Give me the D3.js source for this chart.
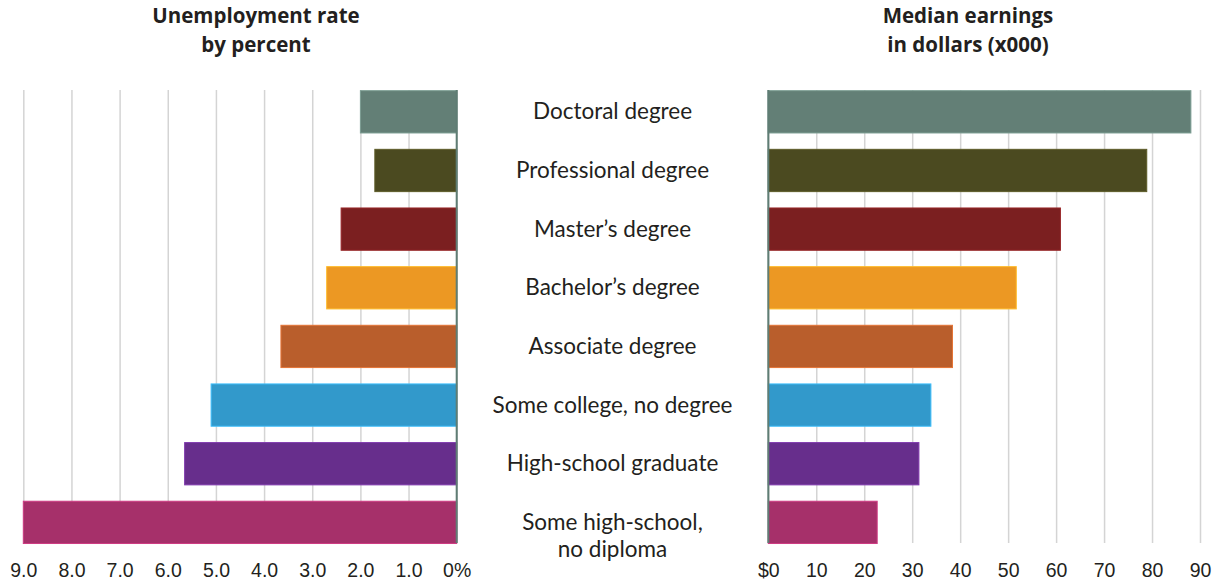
<!DOCTYPE html>
<html>
<head>
<meta charset="utf-8">
<script src="https://cdn.jsdelivr.net/npm/d3@7"></script>
<style>
  body { margin: 0; background: #fff; }
  svg { display: block; font-family: Lato, "Noto Sans", sans-serif; }
  .grid line { stroke: #d4d4d4; stroke-width: 1.5; }
  .grid .domain { display: none; }
  .grid text { font-size: 19.5px; fill: #231f20; }
  .titulo { font-family: "Open Sans", Lato, sans-serif; font-size: 20.5px; font-weight: bold; fill: #231f20; text-anchor: middle; }
  .cat { font-size: 22.5px; fill: #231f20; text-anchor: middle; }
</style>
</head>
<body>
<div id="chart"></div>
<script>
// Datos
const categories = ['Doctoral degree', 'Professional degree', 'Master’s degree', 'Bachelor’s degree',
  'Associate degree', 'Some college, no degree', 'High-school graduate', 'Some high-school,\nno diploma'];
const unemployment = [2.0, 1.7, 2.4, 2.7, 3.65, 5.1, 5.65, 9.0];
const earnings = [88.1, 78.9, 60.9, 51.7, 38.4, 33.9, 31.4, 22.7];
const colors = ['#637f76', '#4b4a20', '#7b1f20', '#ec9823', '#b95e2c', '#3299cb', '#672e8c', '#a6306a'];
const leftTicks = [9, 8, 7, 6, 5, 4, 3, 2, 1, 0];
const rightTicks = [0, 10, 20, 30, 40, 50, 60, 70, 80, 90];
const leftTitle = ['Unemployment rate', 'by percent'];
const rightTitle = ['Median earnings', 'in dollars (x000)'];

const width = 1219;
const height = 584;
const gridTop = 90;
const gridBottom = 543;
const axisColor = '#5f7d74';

const svg = d3.select('#chart')
  .append('svg')
  .attr('width', width)
  .attr('height', height);

const y = d3.scaleBand()
  .domain(categories)
  .range([82.5, 551.7])
  .paddingInner(0.279)
  .paddingOuter(0.1395);

const xL = d3.scaleLinear().domain([0, 9]).range([456.7, 23.3]);
const xR = d3.scaleLinear().domain([0, 90]).range([768.3, 1200]);

// Rejillas + etiquetas de los ejes
const axisL = d3.axisBottom(xL)
  .tickValues(leftTicks)
  .tickSize(-(gridBottom - gridTop))
  .tickPadding(20)
  .tickFormat(d => d === 0 ? '0%' : d.toFixed(1));
svg.append('g')
  .attr('class', 'grid')
  .attr('transform', `translate(0,${gridBottom})`)
  .call(axisL);

const axisR = d3.axisBottom(xR)
  .tickValues(rightTicks)
  .tickSize(-(gridBottom - gridTop))
  .tickPadding(20)
  .tickFormat(d => d === 0 ? '$0' : d);
svg.append('g')
  .attr('class', 'grid')
  .attr('transform', `translate(0,${gridBottom})`)
  .call(axisR);

svg.selectAll('.grid text').attr('font-family', null).attr('font-size', null);

// Barras izquierda (paro)
svg.append('g').selectAll('rect')
  .data(categories)
  .enter()
  .append('rect')
  .attr('x', (d, i) => xL(unemployment[i]))
  .attr('y', d => y(d))
  .attr('width', (d, i) => xL(0) - xL(unemployment[i]))
  .attr('height', y.bandwidth())
  .attr('fill', (d, i) => colors[i])
  .attr('stroke', (d, i) => d3.color(colors[i]).brighter(0.6))
  .attr('stroke-width', 1);

// Barras derecha (ingresos)
svg.append('g').selectAll('rect')
  .data(categories)
  .enter()
  .append('rect')
  .attr('x', xR(0))
  .attr('y', d => y(d))
  .attr('width', (d, i) => xR(earnings[i]) - xR(0))
  .attr('height', y.bandwidth())
  .attr('fill', (d, i) => colors[i])
  .attr('stroke', (d, i) => d3.color(colors[i]).brighter(0.6))
  .attr('stroke-width', 1);

// Lineas del cero
[xL(0), xR(0)].forEach(x0 => {
  svg.append('line')
    .attr('x1', x0).attr('x2', x0)
    .attr('y1', gridTop).attr('y2', gridBottom)
    .attr('stroke', axisColor)
    .attr('stroke-width', 2);
});

// Etiquetas centrales
const cx = (xL(0) + xR(0)) / 2;
categories.forEach(c => {
  const t = svg.append('text')
    .attr('class', 'cat')
    .attr('x', cx)
    .attr('y', y(c) + y.bandwidth() / 2 + 7.5);
  c.split('\n').forEach((line, k) => {
    t.append('tspan')
      .attr('x', cx)
      .attr('dy', k === 0 ? 0 : 27)
      .text(line);
  });
});

// Titulos
function titulo(lines, x) {
  lines.forEach((line, k) => {
    svg.append('text')
      .attr('class', 'titulo')
      .attr('x', x)
      .attr('y', 23 + k * 29)
      .text(line);
  });
}
titulo(leftTitle, 256);
titulo(rightTitle, 968);
</script>
</body>
</html>
